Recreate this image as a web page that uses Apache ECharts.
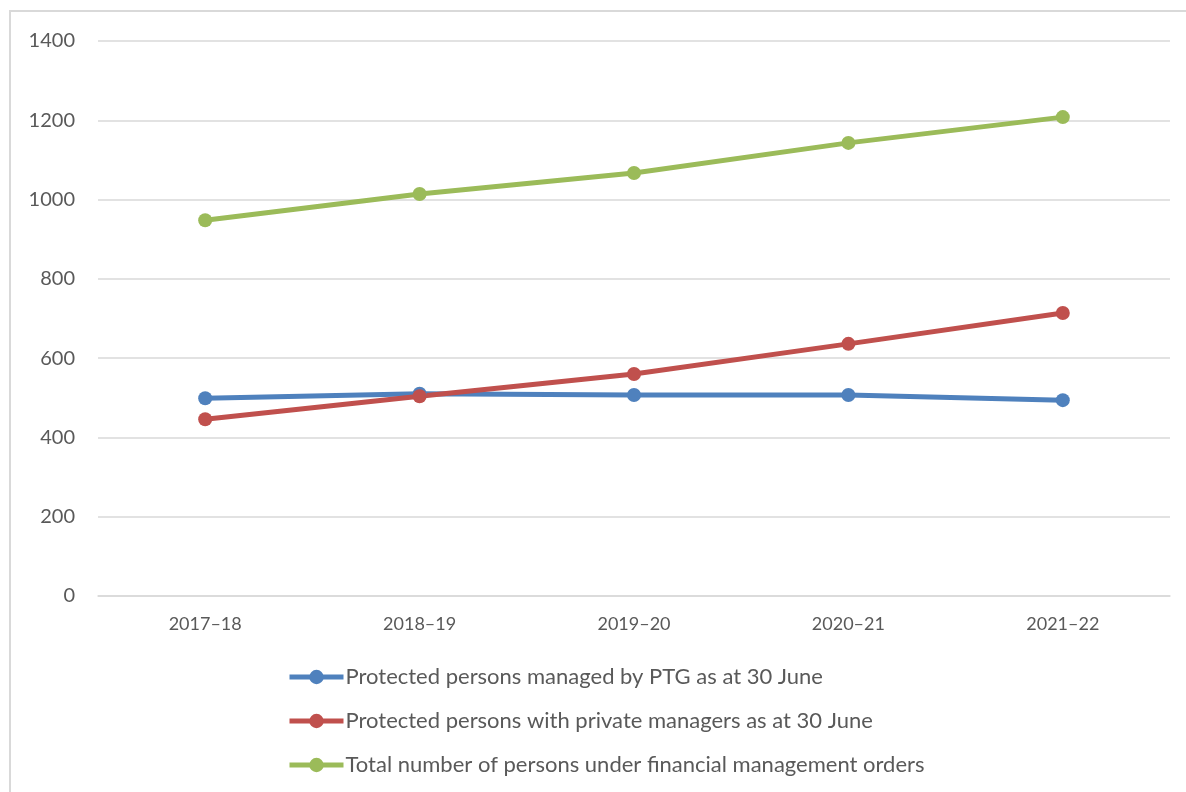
<!DOCTYPE html>
<html>
<head>
<meta charset="utf-8">
<script src="https://cdn.jsdelivr.net/npm/echarts@6/dist/echarts.min.js"></script>
<style>
  html, body { margin: 0; padding: 0; background: #fff; }
  #chart { width: 1186px; height: 792px; }
</style>
</head>
<body>
<div id="chart"></div>
<script>
const years = ['2017–18', '2018–19', '2019–20', '2020–21', '2021–22']
const ptgManaged = [499, 510, 507, 507, 494]
const privateManagers = [446, 504, 560, 636, 714]
const totalOrders = [948, 1014, 1067, 1143, 1208]
const yTicks = { min: 0, max: 1400, interval: 200 }

const seriesNames = [
  'Protected persons managed by PTG as at 30 June',
  'Protected persons with private managers as at 30 June',
  'Total number of persons under financial management orders'
]
const colors = ['#4F81BD', '#C0504D', '#9BBB59']
const fontFamily = 'Lato, "Open Sans", sans-serif'

function makeSeries(name, data, color) {
  return {
    name: name,
    type: 'line',
    data: data,
    symbol: 'circle',
    symbolSize: 14,
    lineStyle: { width: 5, color: color },
    itemStyle: { color: color },
    emphasis: { disabled: true }
  }
}

const chart = echarts.init(document.getElementById('chart'))
chart.setOption({
  animation: false,
  textStyle: { fontFamily: fontFamily },
  graphic: [
    {
      type: 'rect',
      shape: { x: 10, y: 11, width: 1190, height: 800 },
      style: { fill: 'none', stroke: '#d9d9d9', lineWidth: 2 },
      silent: true
    }
  ],
  grid: { left: 98, right: 16, top: 41, bottom: 196, containLabel: false },
  xAxis: {
    type: 'category',
    data: years,
    boundaryGap: true,
    axisLine: { show: true, lineStyle: { color: '#d9d9d9', width: 1.5 } },
    axisTick: { show: false },
    axisLabel: { color: '#595959', fontSize: 18, margin: 19, fontFamily: fontFamily }
  },
  yAxis: {
    type: 'value',
    min: yTicks.min,
    max: yTicks.max,
    interval: yTicks.interval,
    axisLine: { show: false },
    axisTick: { show: false },
    axisLabel: {
      color: '#595959', fontSize: 20, margin: 23, fontFamily: fontFamily,
      formatter: function (v) { return String(v) }
    },
    splitLine: { lineStyle: { color: '#d9d9d9', width: 1.5 } }
  },
  legend: {
    orient: 'vertical',
    left: 282,
    top: 661,
    itemWidth: 54,
    itemHeight: 18,
    itemGap: 22,
    lineStyle: { width: 5 },
    textStyle: { color: '#595959', fontSize: 22, padding: [0, 0, 0, -3], fontFamily: fontFamily },
    data: seriesNames
  },
  series: [
    makeSeries(seriesNames[0], ptgManaged, colors[0]),
    makeSeries(seriesNames[1], privateManagers, colors[1]),
    makeSeries(seriesNames[2], totalOrders, colors[2])
  ]
})
</script>
</body>
</html>
